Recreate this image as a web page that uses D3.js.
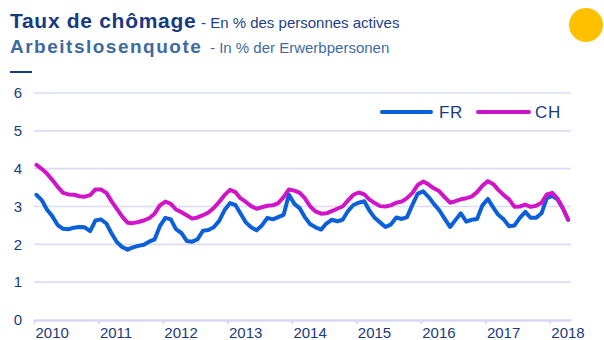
<!DOCTYPE html>
<html>
<head>
<meta charset="utf-8">
<script src="https://cdn.jsdelivr.net/npm/d3@7"></script>
<style>
  html, body { margin: 0; padding: 0; background: #ffffff; }
  svg { display: block; font-family: "Liberation Sans", Arial, sans-serif; }
</style>
</head>
<body>
<svg id="chart" width="604" height="340"></svg>
<script>
// Monthly unemployment rates, January 2010 to April 2018 (in %)
const startMonth = "2010-01";
const seriesNames = ["FR", "CH"];
const frValues = [
  3.31, 3.16, 2.92, 2.74, 2.51, 2.41, 2.40, 2.44, 2.46, 2.45, 2.35, 2.63,
  2.66, 2.55, 2.30, 2.06, 1.93, 1.86, 1.92, 1.96, 1.99, 2.07, 2.13, 2.48,
  2.70, 2.66, 2.40, 2.30, 2.09, 2.07, 2.13, 2.36, 2.38, 2.45, 2.62, 2.90,
  3.09, 3.04, 2.82, 2.58, 2.45, 2.37, 2.50, 2.70, 2.66, 2.72, 2.78, 3.31,
  3.07, 2.95, 2.72, 2.53, 2.45, 2.39, 2.55, 2.65, 2.61, 2.65, 2.88, 3.04,
  3.10, 3.14, 2.90, 2.70, 2.58, 2.46, 2.52, 2.71, 2.67, 2.72, 3.05, 3.34,
  3.40, 3.25, 3.07, 2.90, 2.68, 2.46, 2.64, 2.82, 2.60, 2.65, 2.67, 3.03,
  3.20, 2.97, 2.78, 2.66, 2.48, 2.50, 2.70, 2.86, 2.70, 2.70, 2.82, 3.22,
  3.28, 3.18, 2.96, 2.65
];
const chValues = [
  4.10, 3.99, 3.87, 3.70, 3.52, 3.36, 3.32, 3.31, 3.27, 3.26, 3.30, 3.45,
  3.45, 3.36, 3.15, 2.94, 2.74, 2.57, 2.56, 2.59, 2.63, 2.69, 2.81, 3.03,
  3.13, 3.07, 2.92, 2.85, 2.77, 2.68, 2.71, 2.77, 2.84, 2.96, 3.12, 3.30,
  3.44, 3.38, 3.22, 3.12, 3.01, 2.94, 2.98, 3.02, 3.03, 3.09, 3.25, 3.45,
  3.42, 3.36, 3.22, 3.00, 2.87, 2.81, 2.82, 2.88, 2.94, 3.00, 3.16, 3.31,
  3.37, 3.32, 3.19, 3.09, 3.01, 3.00, 3.03, 3.10, 3.13, 3.22, 3.36, 3.57,
  3.66, 3.58, 3.48, 3.40, 3.25, 3.10, 3.14, 3.19, 3.22, 3.26, 3.38, 3.55,
  3.67, 3.59, 3.44, 3.30, 3.19, 2.99, 3.00, 3.05, 2.99, 3.02, 3.10, 3.32,
  3.36, 3.20, 2.96, 2.65
];
const yTicks = [0, 1, 2, 3, 4, 5, 6];
const xTickYears = [2010, 2011, 2012, 2013, 2014, 2015, 2016, 2017, 2018];

const colors = { FR: "#0b5fd9", CH: "#d014c8" };
const navy = "#1c3a7a";

const svg = d3.select("#chart");

// Each observation is plotted at the middle of its month
const parse = d3.utcParse("%Y-%m");
const t0 = parse(startMonth);
const monthDate = i => d3.utcDay.offset(d3.utcMonth.offset(t0, i), 14);

const x = d3.scaleUtc()
  .domain([t0, d3.utcMonth.offset(t0, 100)])
  .range([34, 571]);
const y = d3.scaleLinear().domain([0, 6]).range([320, 93]);

// Horizontal gridlines
svg.append("g")
  .selectAll("line")
  .data(yTicks.filter(v => v > 0))
  .join("line")
  .attr("x1", 34).attr("x2", 571)
  .attr("y1", d => y(d)).attr("y2", d => y(d))
  .attr("stroke", "#dcdcf8").attr("stroke-width", 1.6);

// Y axis labels
const yAxis = svg.append("g")
  .attr("transform", "translate(22,0)")
  .call(d3.axisLeft(y).tickValues(yTicks).tickFormat(d3.format("d"))
    .tickSize(0).tickPadding(0));
yAxis.select(".domain").remove();
yAxis.selectAll("text")
  .attr("fill", navy)
  .attr("font-size", 15)
  .attr("font-family", "Liberation Sans, Arial, sans-serif");

// X axis with year ticks
const xAxis = svg.append("g")
  .attr("transform", "translate(0,320)")
  .call(d3.axisBottom(x)
    .tickValues(xTickYears.map(yr => new Date(Date.UTC(yr, 0, 1))))
    .tickFormat(d3.utcFormat("%Y"))
    .tickSize(4).tickSizeOuter(0).tickPadding(3));
xAxis.select(".domain")
  .attr("stroke", "#d6d6f4").attr("stroke-width", 2.6);
xAxis.selectAll(".tick line")
  .attr("stroke", "#d6d6f4").attr("stroke-width", 2);
xAxis.selectAll("text")
  .attr("fill", navy)
  .attr("font-size", 15)
  .attr("font-family", "Liberation Sans, Arial, sans-serif")
  .attr("text-anchor", "start")
  .attr("dx", 1);

// Series lines
const line = d3.line()
  .x((d, i) => x(monthDate(i)))
  .y(d => y(d));

const seriesData = { FR: frValues, CH: chValues };
seriesNames.forEach(name => {
  svg.append("path")
    .datum(seriesData[name])
    .attr("fill", "none")
    .attr("stroke", colors[name])
    .attr("stroke-width", 4)
    .attr("stroke-linejoin", "round")
    .attr("stroke-linecap", "round")
    .attr("d", line);
});

// Legend
const legend = [
  { name: "FR", x1: 382, x2: 431, tx: 439 },
  { name: "CH", x1: 478, x2: 529, tx: 535 }
];
const lg = svg.append("g");
lg.selectAll("line")
  .data(legend)
  .join("line")
  .attr("x1", d => d.x1).attr("x2", d => d.x2)
  .attr("y1", 112).attr("y2", 112)
  .attr("stroke", d => colors[d.name])
  .attr("stroke-width", 4)
  .attr("stroke-linecap", "round");
lg.selectAll("text")
  .data(legend)
  .join("text")
  .attr("x", d => d.tx).attr("y", 118)
  .attr("fill", navy)
  .attr("font-size", 17)
  .attr("letter-spacing", 0.6)
  .text(d => d.name);

// Titles
const title1 = svg.append("text").attr("x", 10).attr("y", 27.5);
title1.append("tspan")
  .attr("font-weight", "bold").attr("font-size", 21)
  .attr("letter-spacing", 0.7)
  .attr("fill", "#163a80")
  .text("Taux de chômage");
title1.append("tspan")
  .attr("x", 201)
  .attr("font-size", 15).attr("fill", "#1c3f85")
  .text("- En % des personnes  actives");

const title2 = svg.append("text").attr("x", 10).attr("y", 52.7);
title2.append("tspan")
  .attr("font-weight", "bold").attr("font-size", 19)
  .attr("letter-spacing", 1.5)
  .attr("fill", "#3e6b9f")
  .text("Arbeitslosenquote");
title2.append("tspan")
  .attr("x", 210)
  .attr("font-size", 15).attr("fill", "#3e6b9f")
  .text("- In % der Erwerbpersonen");

// Short rule under the titles
svg.append("line")
  .attr("x1", 10).attr("x2", 32)
  .attr("y1", 72).attr("y2", 72)
  .attr("stroke", "#163a80").attr("stroke-width", 2);

// Yellow marker top right
svg.append("circle")
  .attr("cx", 586).attr("cy", 25).attr("r", 17)
  .attr("fill", "#ffc000");
</script>
</body>
</html>
